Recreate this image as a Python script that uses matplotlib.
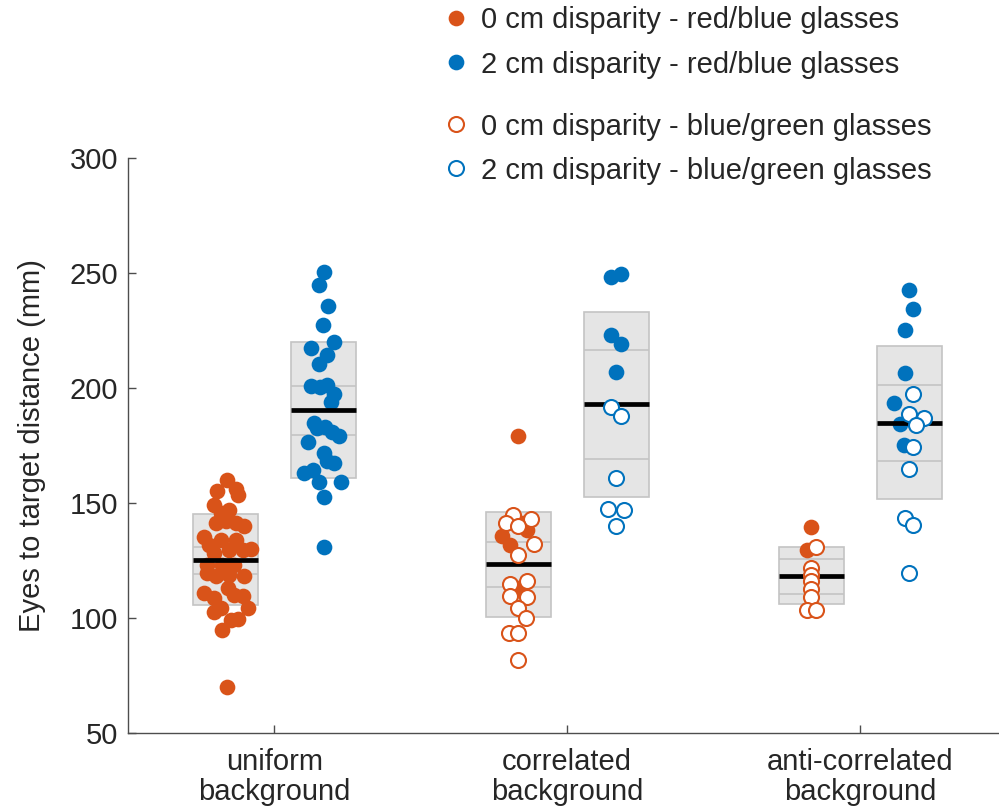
import matplotlib
matplotlib.use('Agg')
import matplotlib.pyplot as plt
from matplotlib.lines import Line2D

plt.rcParams['font.family'] = ['Liberation Sans', 'DejaVu Sans']

# categories
categories = ['uniform\nbackground', 'correlated\nbackground', 'anti-correlated\nbackground']

# values (mm); jitter is the sideways offset of each dot
# uniform background, 0 cm, red/blue glasses
uni0_rb = [160.0, 155.1, 155.9, 153.5, 149.1, 147.0, 145.5, 141.2, 141.9, 141.2,
           140.0, 135.1, 131.7, 133.9, 133.9, 130.0, 128.1, 129.6, 129.6, 123.0,
           123.0, 123.0, 119.4, 118.0, 118.7, 118.3, 110.7, 108.6, 112.9, 110.0,
           109.3, 102.7, 104.2, 104.2, 99.1, 99.4, 94.5, 69.9]
uni0_rb_jit = [0.004, -0.029, 0.036, 0.044, -0.040, 0.013, -0.015, -0.032, 0.002, 0.036,
               0.064, -0.072, -0.055, -0.015, 0.036, 0.087, -0.038, 0.013, 0.059, -0.061,
               -0.010, 0.030, -0.061, -0.032, 0.013, 0.064, -0.072, -0.038, 0.008, 0.030,
               0.059, -0.038, -0.015, 0.076, 0.019, 0.042, -0.013, 0.004]
# uniform background, 2 cm, red/blue glasses
uni2_rb = [250.3, 244.8, 235.8, 227.5, 220.1, 217.4, 214.5, 210.3, 201.0, 200.6,
           201.3, 197.4, 194.0, 184.9, 182.4, 183.2, 181.0, 179.1, 176.4, 171.9,
           168.4, 167.3, 162.9, 164.3, 159.0, 159.0, 152.5, 130.6]
uni2_rb_jit = [0.002, -0.015, 0.017, 0.001, 0.038, -0.041, 0.013, -0.015, -0.041, -0.010,
               0.013, 0.038, 0.027, -0.032, -0.021, 0.008, 0.030, 0.056, -0.053, 0.002,
               0.013, 0.039, -0.064, -0.035, -0.014, 0.061, 0.002, 0.002]

# correlated background
cor0_rb = [179.1, 141.2, 138.0, 135.7, 131.7, 112.9]
cor0_rb_jit = [0.0, 0.017, 0.029, -0.057, -0.028, 0.0]
cor0_bg = [144.8, 141.2, 143.0, 140.0, 132.2, 127.1, 114.8, 116.1, 109.3, 109.0,
           104.2, 100.1, 93.3, 93.3, 81.7]
cor0_bg_jit = [-0.017, -0.043, 0.042, 0.0, 0.054, 0.0, -0.028, 0.029, -0.028, 0.029,
               0.0, 0.026, -0.031, 0.0, 0.0]
cor2_rb = [249.6, 248.1, 223.0, 219.1, 207.1]
cor2_rb_jit = [0.017, -0.017, -0.017, 0.017, 0.0]
cor2_bg = [191.9, 187.8, 160.7, 147.4, 147.0, 140.0]
cor2_bg_jit = [-0.017, 0.017, 0.0, -0.026, 0.026, 0.0]

# anti-correlated background
anti0_rb = [139.3, 129.6]
anti0_rb_jit = [0.0, -0.014]
anti0_bg = [131.0, 121.8, 118.5, 115.8, 112.5, 109.0, 103.5, 103.5]
anti0_bg_jit = [0.017, 0.0, 0.0, 0.0, 0.0, 0.0, -0.014, 0.014]
anti2_rb = [242.6, 234.3, 225.2, 206.4, 193.3, 184.3, 175.2]
anti2_rb_jit = [0.0, 0.014, -0.013, -0.013, -0.050, -0.030, -0.016]
anti2_bg = [197.4, 188.6, 186.8, 183.9, 174.2, 164.7, 143.3, 140.4, 119.4]
anti2_bg_jit = [0.014, 0.0, 0.052, 0.024, 0.014, 0.0, -0.015, 0.014, 0.0]

# box summaries per category: mean, inner band, outer band
mean_0cm = [125.2, 123.2, 118.3]
inner_lo_0cm = [119.1, 113.3, 110.4]
inner_hi_0cm = [130.9, 132.9, 125.5]
outer_lo_0cm = [105.7, 100.3, 106.1]
outer_hi_0cm = [145.2, 145.9, 130.6]

mean_2cm = [190.3, 192.9, 184.9]
inner_lo_2cm = [179.6, 169.1, 168.4]
inner_hi_2cm = [201.0, 216.5, 201.2]
outer_lo_2cm = [160.9, 152.7, 151.5]
outer_hi_2cm = [220.0, 232.9, 218.3]

legend_labels = ['0 cm disparity - red/blue glasses', '2 cm disparity - red/blue glasses',
                 '0 cm disparity - blue/green glasses', '2 cm disparity - blue/green glasses']

red = '#D95319'
blue = '#0072BD'
txt = '#262626'
shift = 1 / 6.
half_w = 0.111
ms = 11.3
fs = 21

fig = plt.figure(figsize=(9.99, 8.1), dpi=100)
ax = fig.add_axes([0.1278, 0.0954, 0.880, 0.7095])


def draw_box(xc, lo, hi, ilo, ihi):
    ax.bar(xc, hi - lo, bottom=lo, width=2 * half_w, color='#E5E5E5',
           edgecolor='#C4C4C4', linewidth=1.2, zorder=1)
    ax.hlines([ilo, ihi], xc - half_w, xc + half_w, color='#C4C4C4', linewidth=1.2, zorder=2)


def dots(xc, vals, jit, col, filled, z):
    xs = [xc + j for j in jit]
    if filled:
        ax.plot(xs, vals, 'o', color=col, markersize=ms, markeredgewidth=0, zorder=z)
    else:
        ax.plot(xs, vals, 'o', markerfacecolor='white', markeredgecolor=col,
                markersize=ms - 0.5, markeredgewidth=1.5, zorder=z)


rb0 = [(uni0_rb, uni0_rb_jit), (cor0_rb, cor0_rb_jit), (anti0_rb, anti0_rb_jit)]
rb2 = [(uni2_rb, uni2_rb_jit), (cor2_rb, cor2_rb_jit), (anti2_rb, anti2_rb_jit)]
bg0 = [None, (cor0_bg, cor0_bg_jit), (anti0_bg, anti0_bg_jit)]
bg2 = [None, (cor2_bg, cor2_bg_jit), (anti2_bg, anti2_bg_jit)]

for i in range(3):
    x0 = i + 1 - shift
    x2 = i + 1 + shift
    draw_box(x0, outer_lo_0cm[i], outer_hi_0cm[i], inner_lo_0cm[i], inner_hi_0cm[i])
    draw_box(x2, outer_lo_2cm[i], outer_hi_2cm[i], inner_lo_2cm[i], inner_hi_2cm[i])
    dots(x0, rb0[i][0], rb0[i][1], red, True, 3)
    dots(x2, rb2[i][0], rb2[i][1], blue, True, 3)
    ax.hlines(mean_0cm[i], x0 - half_w, x0 + half_w, color='black', linewidth=3.4, zorder=4)
    ax.hlines(mean_2cm[i], x2 - half_w, x2 + half_w, color='black', linewidth=3.4, zorder=4)
    if bg0[i] is not None:
        dots(x0, bg0[i][0], bg0[i][1], red, False, 5)
        dots(x2, bg2[i][0], bg2[i][1], blue, False, 5)

ax.set_xlim(0.5, 3.5)
ax.set_ylim(50, 300)
ax.set_yticks([50, 100, 150, 200, 250, 300])
ax.set_xticks([1, 2, 3])
ax.set_xticklabels(categories, linespacing=1.1)
for s in ['top', 'right']:
    ax.spines[s].set_visible(False)
for s in ['left', 'bottom']:
    ax.spines[s].set_color('#4D4D4D')
    ax.spines[s].set_linewidth(1.0)
ax.tick_params(direction='in', length=6, width=1.0, color='#4D4D4D',
               labelsize=fs, labelcolor=txt, pad=7)
ax.tick_params(axis='x', pad=11)
ax.set_ylabel('Eyes to target distance (mm)', fontsize=fs, color=txt, labelpad=17)

h1 = [Line2D([], [], marker='o', linestyle='none', color=red, markersize=ms, markeredgewidth=0),
      Line2D([], [], marker='o', linestyle='none', color=blue, markersize=ms, markeredgewidth=0)]
h2 = [Line2D([], [], marker='o', linestyle='none', markerfacecolor='white', markeredgecolor=red,
             markersize=ms - 0.5, markeredgewidth=1.5),
      Line2D([], [], marker='o', linestyle='none', markerfacecolor='white', markeredgecolor=blue,
             markersize=ms - 0.5, markeredgewidth=1.5)]
kw = dict(loc='upper left', frameon=False, fontsize=fs, handlelength=0.8,
          handletextpad=0.45, labelspacing=0.55, borderpad=0, borderaxespad=0, labelcolor=txt)
fig.legend(h1, legend_labels[:2], bbox_to_anchor=(0.445, 0.992), **kw)
fig.legend(h2, legend_labels[2:], bbox_to_anchor=(0.445, 0.861), **kw)

fig.savefig('out.png', dpi=100)
